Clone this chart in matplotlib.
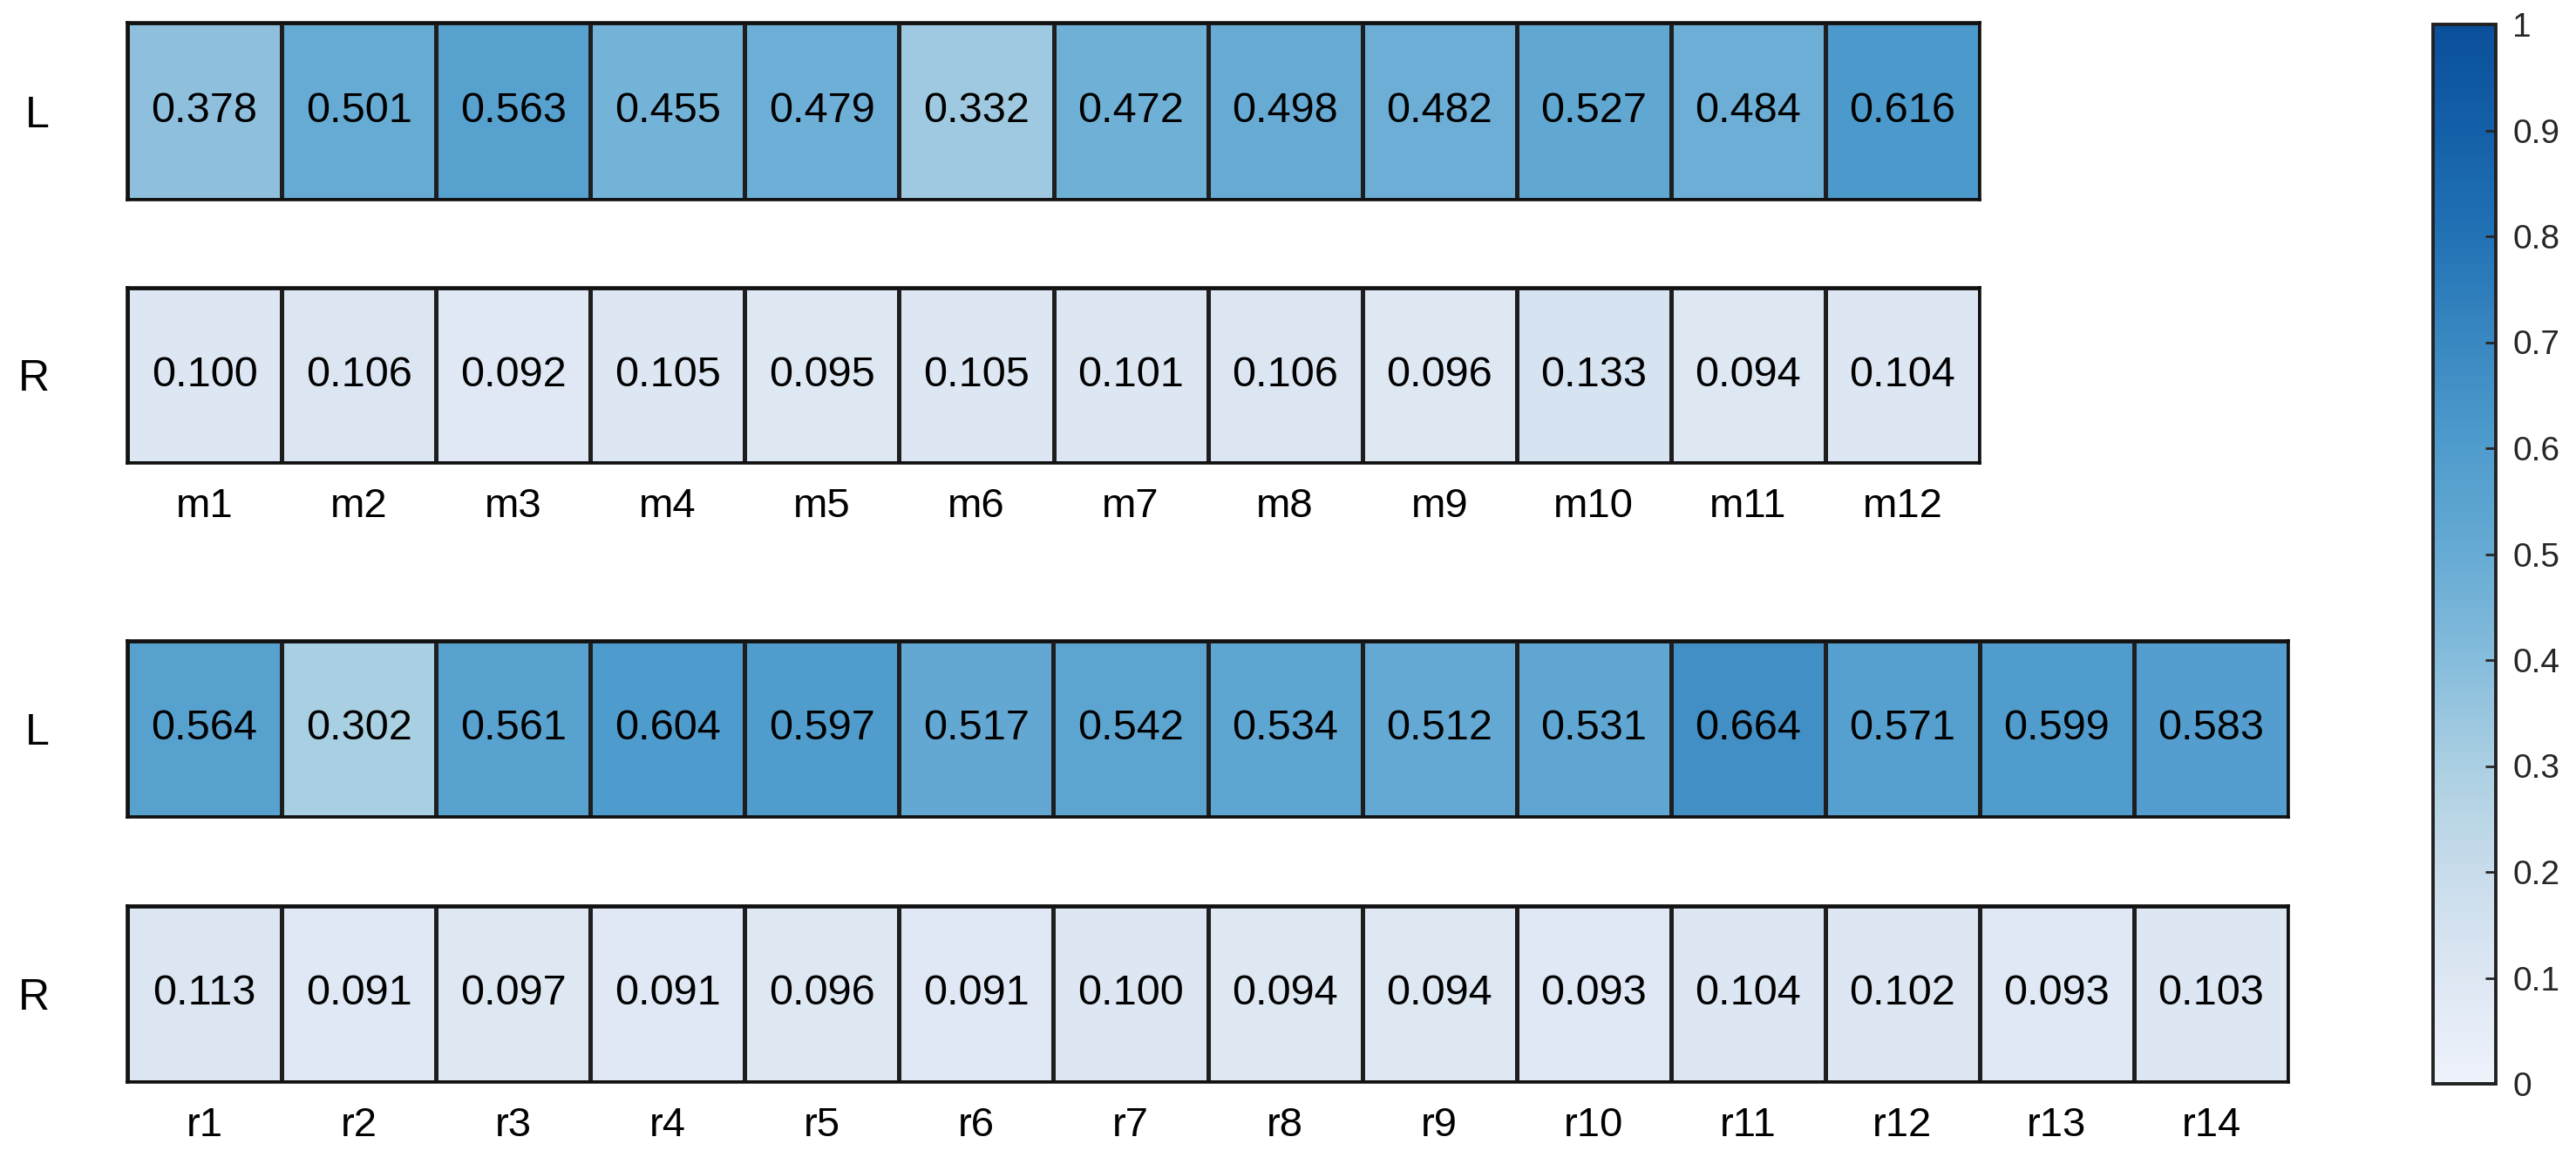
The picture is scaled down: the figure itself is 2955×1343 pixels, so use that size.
import numpy as np
import matplotlib
matplotlib.use("Agg")
import matplotlib.pyplot as plt
from matplotlib.colors import LinearSegmentedColormap, Normalize
from matplotlib.cm import ScalarMappable

plt.rcParams['font.family'] = ['Liberation Sans', 'DejaVu Sans']

# data
rows = ["L", "R"]
m_labels = [f"m{i}" for i in range(1, 13)]
r_labels = [f"r{i}" for i in range(1, 15)]

m_left = [0.378, 0.501, 0.563, 0.455, 0.479, 0.332, 0.472, 0.498, 0.482, 0.527, 0.484, 0.616]
m_right = [0.100, 0.106, 0.092, 0.105, 0.095, 0.105, 0.101, 0.106, 0.096, 0.133, 0.094, 0.104]
r_left = [0.564, 0.302, 0.561, 0.604, 0.597, 0.517, 0.542, 0.534, 0.512, 0.531, 0.664,
          0.571, 0.599, 0.583]
r_right = [0.113, 0.091, 0.097, 0.091, 0.096, 0.091, 0.100, 0.094, 0.094, 0.093, 0.104,
           0.102, 0.093, 0.103]

cbar_ticks = [0, 0.1, 0.2, 0.3, 0.4, 0.5, 0.6, 0.7, 0.8, 0.9, 1.0]

# colormap sampled from the colorbar
cmap = LinearSegmentedColormap.from_list("blues_ref", [
    (0.0, "#eef2fb"), (0.1, "#dde7f3"), (0.2, "#c8dceb"), (0.3, "#aacfe2"),
    (0.4, "#86bcdc"), (0.5, "#66abd4"), (0.6, "#4f9ccd"), (0.7, "#3a88c1"),
    (0.8, "#2272b6"), (0.9, "#1460a8"), (1.0, "#0a4f9a")])
norm = Normalize(0, 1)

W, H = 2955, 1343
dpi = 200
fig = plt.figure(figsize=(W / dpi, H / dpi), dpi=dpi)


def px_axes(x0, y0, x1, y1):
    # pixel box (top-left origin) -> figure axes
    return fig.add_axes([x0 / W, 1 - y1 / H, (x1 - x0) / W, (y1 - y0) / H])


def strip(ax, values, row_label, xlabels=None):
    data = np.array([values])
    ax.pcolormesh(data, cmap=cmap, norm=norm, edgecolors="#1e1e1e", linewidth=1.1)
    for i, v in enumerate(values):
        ax.text(i + 0.5, 0.5, f"{v:.3f}", ha="center", va="center", fontsize=17.5, color="black")
    ax.set_xlim(0, len(values))
    ax.set_ylim(0, 1)
    ax.set_yticks([0.5])
    ax.set_yticklabels([row_label], fontsize=18)
    ax.tick_params(axis="y", length=0, pad=32)
    if xlabels:
        ax.set_xticks(np.arange(len(values)) + 0.5)
        ax.set_xticklabels(xlabels, fontsize=17)
        ax.tick_params(axis="x", length=0, pad=10)
    else:
        ax.set_xticks([])
    for s in ax.spines.values():
        s.set_linewidth(1.3)
        s.set_color("#111111")


ax1 = px_axes(146, 26, 2271, 229)
strip(ax1, m_left, rows[0])
ax2 = px_axes(146, 330, 2271, 531)
strip(ax2, m_right, rows[1], m_labels)
ax3 = px_axes(146, 735, 2625, 937)
strip(ax3, r_left, rows[0])
ax4 = px_axes(146, 1039, 2625, 1241)
strip(ax4, r_right, rows[1], r_labels)

cax = px_axes(2791, 28, 2863, 1243)
cb = fig.colorbar(ScalarMappable(norm=norm, cmap=cmap), cax=cax)
cb.set_ticks(cbar_ticks)
cb.set_ticklabels([f"{t:g}" for t in cbar_ticks])
cb.ax.tick_params(direction="in", length=4.5, width=1, pad=7, labelsize=14,
                  colors="#262626")
cb.outline.set_linewidth(1.4)
cb.outline.set_edgecolor("#222222")

fig.savefig("out.png", dpi=dpi)
